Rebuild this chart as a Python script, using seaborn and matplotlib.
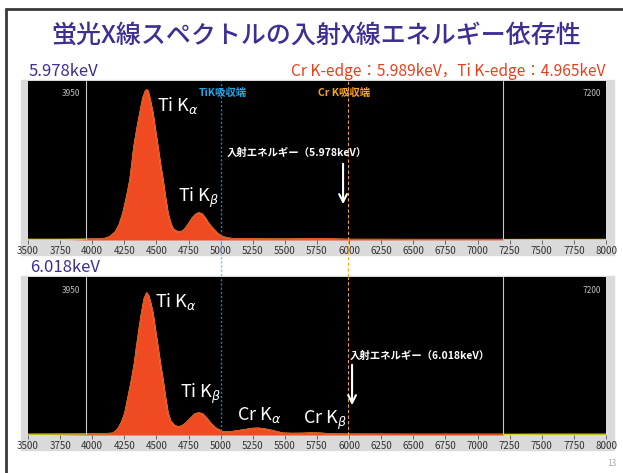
import matplotlib
matplotlib.use("Agg")
import matplotlib.pyplot as plt
import seaborn as sns
from matplotlib.patches import Rectangle
from matplotlib.lines import Line2D

# spectrum (energy in eV, intensity in arbitrary units)
energy_top = [3500, 3750, 3950, 4050, 4100, 4138, 4180, 4210, 4240, 4270, 4294, 4310,
              4325, 4350, 4372, 4395, 4415, 4424, 4435, 4450, 4473, 4492, 4512, 4530,
              4551, 4570, 4590, 4610, 4630, 4660, 4683, 4705, 4722, 4750, 4780, 4810,
              4831, 4855, 4880, 4910, 4943, 4980, 5016, 5060, 5100, 5300, 5500, 5700,
              5750, 5850, 6000, 6500, 7200, 7500, 8000]
counts_top = [0.6, 0.6, 0.8, 1.0, 1.5, 3.3, 8, 15, 27, 44, 60, 76,
              93, 112, 127, 142, 149, 150, 149, 141, 127, 110, 93, 77,
              60, 43, 27, 17, 11, 8.5, 8, 9, 11, 16, 22, 26,
              27, 26, 22, 16, 11, 6, 3.2, 1.8, 1.2, 1.0, 0.8, 1.2,
              1.3, 1.0, 0.5, 0.4, 0.4, 0.5, 0.5]

energy_bot = [3500, 3950, 4100, 4162, 4200, 4230, 4255, 4280, 4307, 4330, 4346, 4365,
              4385, 4405, 4424, 4440, 4455, 4473, 4492, 4512, 4530, 4551, 4570, 4590,
              4610, 4640, 4670, 4700, 4730, 4760, 4800, 4831, 4860, 4890, 4920, 4960,
              5016, 5060, 5100, 5150, 5200, 5250, 5293, 5340, 5400, 5450, 5485, 5550,
              5640, 5700, 5770, 5850, 6000, 6500, 7200, 7500, 8000]
counts_bot = [0.8, 1.0, 1.2, 1.7, 6, 13, 22, 38, 55, 72, 88, 105,
              122, 136, 142, 139, 132, 122, 105, 88, 72, 55, 38, 22,
              14, 9.5, 8, 9, 12, 16, 21, 22, 21, 17, 12, 7,
              3.2, 3, 3.5, 4.5, 5.5, 6.5, 6.7, 6, 4.5, 2.8, 1.8, 1.5,
              1.6, 2, 1.8, 1.0, 0.8, 0.6, 0.6, 0.8, 0.8]

roi = [3950, 7200]
ti_edge = 5000
cr_edge = 5989
incident = [5953, 6023]
xticks = list(range(3500, 8001, 250))

sns.set_style("dark")
plt.rcParams['font.family'] = ['Noto Sans CJK JP', 'DejaVu Sans']
plt.rcParams['mathtext.fontset'] = 'dejavusans'

W, H = 623, 473
fig = plt.figure(figsize=(W / 100, H / 100), dpi=100)
fig.patch.set_facecolor('white')


def fx(x):
    return x / W


def fy(y):
    return 1 - y / H


# slide frame
fig.add_artist(Line2D([fx(6), fx(6)], [fy(9), 0], color='#3a3a3a', lw=2))
fig.add_artist(Line2D([fx(6), 1], [fy(9), fy(9)], color='#3a3a3a', lw=2))

# titles
purple = '#3d2e92'
fig.text(fx(316), fy(36), '蛍光X線スペクトルの入射X線エネルギー依存性', ha='center', va='center',
         fontsize=18, color=purple, weight='medium')
fig.text(fx(29), fy(71), '5.978keV', ha='left', va='center', fontsize=12, color=purple)
fig.text(fx(605), fy(71), 'Cr K-edge：5.989keV，Ti K-edge：4.965keV', ha='right', va='center',
         fontsize=11.2, color='#e8401c')
fig.text(fx(30), fy(268), '6.018keV', ha='left', va='center', fontsize=12, color=purple)
fig.text(fx(612), fy(463), '13', ha='center', va='center', fontsize=6, color='#aaaaaa')


def panel(y_top, y_bot, gray_top, gray_bot, energy, counts, ymax):
    fig.add_artist(Rectangle((fx(21), fy(gray_bot)), fx(593), (gray_bot - gray_top) / H,
                             transform=fig.transFigure, color='#dadada', zorder=-1))
    ax = fig.add_axes([fx(28), fy(y_bot), fx(578), (y_bot - y_top) / H])
    ax.set_facecolor('black')
    ax.fill_between(energy, counts, where=[roi[0] <= e <= roi[1] for e in energy],
                    color='#f04a23', lw=0, interpolate=True)
    sns.lineplot(x=energy, y=counts, ax=ax, color='#e0d020', lw=1)
    sns.lineplot(x=[e for e in energy if roi[0] <= e <= roi[1]],
                 y=[c for e, c in zip(energy, counts) if roi[0] <= e <= roi[1]],
                 ax=ax, color='#f04a23', lw=1)
    for r in roi:
        ax.axvline(r, color='#c8c8c8', lw=0.8)
    ax.axvline(ti_edge, color='#2a7cb0', lw=1, ls=(0, (1.5, 1.5)))
    ax.axvline(cr_edge, color='#e8a030', lw=0.8, ls=(0, (3, 2)))
    ax.set_xlim(3500, 8000)
    ax.set_ylim(0, ymax)
    ax.set_xticks(xticks)
    ax.tick_params(axis='x', labelsize=7, colors='#555555', labelcolor='#333333',
                   length=3, width=0.6, pad=1, bottom=True)
    ax.set_yticks([])
    ax.set_xlabel('')
    ax.set_ylabel('')
    ax.grid(False)
    for s in ax.spines.values():
        s.set_visible(False)
    ax.text(3905, ymax - 13, '3950', ha='right', va='center', fontsize=6, color='#bbbbbb')
    ax.text(7961, ymax - 13, '7200', ha='right', va='center', fontsize=6, color='#bbbbbb')
    return ax


ax1 = panel(81, 240, 80, 255, energy_top, counts_top, 159)
ax2 = panel(277, 435, 276, 450, energy_bot, counts_bot, 158)

# edge lines between the panels
ti_px = 28 + (ti_edge - 3500) * 578 / 4500
cr_px = 28 + (cr_edge - 3500) * 578 / 4500
fig.add_artist(Line2D([fx(ti_px)] * 2, [fy(240), fy(277)], color='#5bc8f0', lw=1, ls=(0, (1.5, 1.5))))
fig.add_artist(Line2D([fx(cr_px)] * 2, [fy(240), fy(277)], color='#f0a830', lw=0.8, ls=(0, (3, 2))))

ax1.text(4831, 147, 'TiK吸収端', ha='left', va='center', fontsize=7.5, color='#22a8e8', weight='bold')
ax1.text(5758, 147, 'Cr K吸収端', ha='left', va='center', fontsize=7.5, color='#f5a623', weight='bold')

lab = dict(color='white', fontsize=13, ha='left', va='center')
ax1.text(4504, 134, r'Ti K$_\alpha$', **lab)
ax1.text(4668, 42, r'Ti K$_\beta$', **lab)
ax2.text(4489, 134, r'Ti K$_\alpha$', **lab)
ax2.text(4683, 41, r'Ti K$_\beta$', **lab)
ax2.text(5127, 20, r'Cr K$_\alpha$', **lab)
ax2.text(5641, 15, r'Cr K$_\beta$', **lab)

arr = dict(arrowstyle='->', color='white', lw=1.5, mutation_scale=14)
ax1.text(5049, 87, '入射エネルギー（5.978keV）', ha='left', va='center', fontsize=7.5,
         color='white', weight='bold')
ax1.annotate('', xy=(incident[0], 33), xytext=(incident[0], 79), arrowprops=arr)
ax2.text(6007, 79, '入射エネルギー（6.018keV）', ha='left', va='center', fontsize=7.5,
         color='white', weight='bold')
ax2.annotate('', xy=(incident[1], 27), xytext=(incident[1], 73), arrowprops=arr)

fig.savefig('out.png', dpi=100, facecolor='white')
